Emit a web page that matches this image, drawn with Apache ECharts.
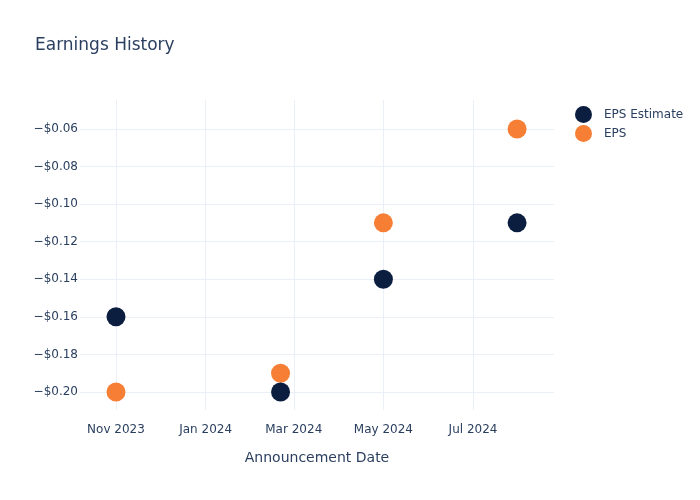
<!DOCTYPE html>
<html>
<head>
<meta charset="utf-8">
<script src="https://cdn.jsdelivr.net/npm/echarts@6/dist/echarts.min.js"></script>
<style>html,body{margin:0;padding:0;background:#fff}#c{width:700px;height:500px}</style>
</head>
<body>
<div id="c"></div>
<script>
var dates = ['2023-11-01', '2024-02-21', '2024-05-01', '2024-07-31'];
var epsEstimate = [-0.16, -0.20, -0.14, -0.11];
var eps = [-0.20, -0.19, -0.11, -0.06];
var xTickDates = ['2023-11-01', '2024-01-01', '2024-03-01', '2024-05-01', '2024-07-01'];
var xTickLabels = ['Nov 2023', 'Jan 2024', 'Mar 2024', 'May 2024', 'Jul 2024'];
var yTicks = [-0.20, -0.18, -0.16, -0.14, -0.12, -0.10, -0.08, -0.06];

function ts(s) { var p = s.split('-'); return Date.UTC(+p[0], +p[1] - 1, +p[2]); }
var xTickTs = xTickDates.map(ts);
function pairs(vals) { return dates.map(function (d, i) { return [ts(d), vals[i]]; }); }
function fmtY(v) { return (v < 0 ? '\u2212' : '') + '$' + Math.abs(v).toFixed(2); }

var chart = echarts.init(document.getElementById('c'), null, { renderer: 'canvas' });
var textColor = '#2a3f5f';
var gridColor = '#ebf0f8';
chart.setOption({
  backgroundColor: '#fff',
  animation: false,
  textStyle: { fontFamily: 'DejaVu Sans, sans-serif' },
  title: {
    text: 'Earnings History', left: 35, top: 37, padding: 0,
    textStyle: { fontSize: 17, fontWeight: 'normal', color: textColor, fontFamily: 'DejaVu Sans, sans-serif' }
  },
  legend: {
    orient: 'vertical', left: 575, top: 106, itemGap: 2, padding: 0,
    icon: 'circle', itemWidth: 17, itemHeight: 17,
    data: ['EPS Estimate', 'EPS'],
    textStyle: { fontSize: 12, color: textColor, padding: [0, 0, 0, 7] }
  },
  grid: { left: 80, right: 146, top: 100, bottom: 90, containLabel: false },
  xAxis: {
    type: 'value',
    min: Date.UTC(2023, 9, 7, 12),
    max: Date.UTC(2024, 7, 25, 3),
    name: 'Announcement Date', nameLocation: 'middle', nameGap: 41,
    nameTextStyle: { fontSize: 14, color: textColor },
    axisLine: { show: false },
    axisTick: { show: false, customValues: xTickTs },
    axisLabel: {
      customValues: xTickTs, fontSize: 12, color: textColor, margin: 14,
      formatter: function (v) { var i = xTickTs.indexOf(v); return i >= 0 ? xTickLabels[i] : ''; }
    },
    splitLine: { show: true, lineStyle: { color: gridColor, width: 1 } }
  },
  yAxis: {
    type: 'value',
    min: -0.2096, max: -0.0446,
    axisLine: { show: false },
    axisTick: { show: false, customValues: yTicks },
    axisLabel: { customValues: yTicks, fontSize: 12, color: textColor, margin: 2, formatter: fmtY },
    splitLine: { show: true, lineStyle: { color: gridColor, width: 1 } }
  },
  series: [
    {
      name: 'EPS', type: 'scatter', symbolSize: 19, z: 2,
      itemStyle: { color: '#f77f35', opacity: 1, borderWidth: 0 },
      data: pairs(eps)
    },
    {
      name: 'EPS Estimate', type: 'scatter', symbolSize: 19, z: 3,
      itemStyle: { color: '#0b1e40', opacity: 1, borderWidth: 0 },
      data: pairs(epsEstimate)
    }
  ]
});
</script>
</body>
</html>
